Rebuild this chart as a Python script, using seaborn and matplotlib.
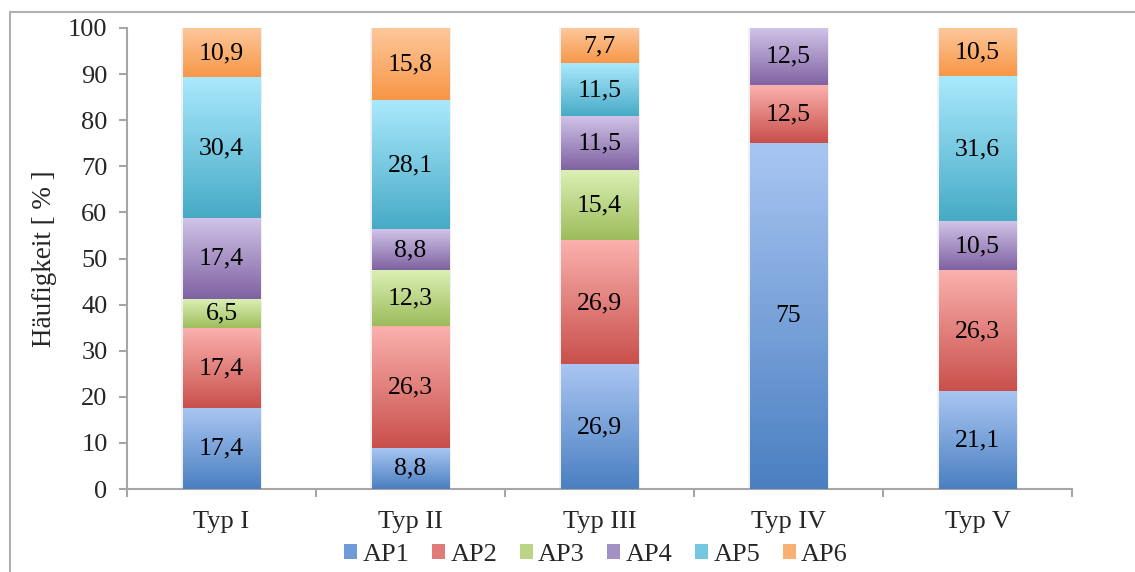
import numpy as np
import pandas as pd
import matplotlib
matplotlib.use("Agg")
import matplotlib.pyplot as plt
import matplotlib.colors as mcolors
from matplotlib.patches import Patch, Rectangle
import seaborn as sns

categories = ["Typ I", "Typ II", "Typ III", "Typ IV", "Typ V"]
series = ["AP1", "AP2", "AP3", "AP4", "AP5", "AP6"]
ap1 = [17.4, 8.8, 26.9, 75.0, 21.1]
ap2 = [17.4, 26.3, 26.9, 12.5, 26.3]
ap3 = [6.5, 12.3, 15.4, 0.0, 0.0]
ap4 = [17.4, 8.8, 11.5, 12.5, 10.5]
ap5 = [30.4, 28.1, 11.5, 0.0, 31.6]
ap6 = [10.9, 15.8, 7.7, 0.0, 10.5]
values = [ap1, ap2, ap3, ap4, ap5, ap6]

top_colors = ["#a9c6f2", "#fbb1ae", "#dbf0b4", "#d0c3e8", "#aae9fd", "#fdc89c"]
bot_colors = ["#4a7fc1", "#c84f4a", "#9bbb59", "#7f62a1", "#46aac5", "#f79646"]
mid_colors = ["#6f9bd8", "#e07b77", "#b9d585", "#a491c4", "#74c7e0", "#fab071"]

sns.set_theme(style="white")
plt.rcParams["font.family"] = ["Liberation Serif", "DejaVu Serif"]

fig = plt.figure(figsize=(11.35, 5.72), dpi=100)
ax = fig.add_axes([127 / 1135, 1 - 489 / 572, (1072 - 127) / 1135, (489 - 28) / 572])

data = np.array(values)
cum = np.cumsum(data, axis=0)
bottoms = np.vstack([np.zeros(len(categories)), cum[:-1]])

width = 0.41
for k in range(len(series) - 1, -1, -1):
    df = pd.DataFrame({"cat": categories, "val": cum[k]})
    n_before = len(ax.patches)
    sns.barplot(data=df, x="cat", y="val", order=categories, color=mid_colors[k],
                width=width, ax=ax, saturation=1, zorder=2 + (len(series) - k) * 0.01,
                errorbar=None)
    new_patches = ax.patches[n_before:]
    for i, p in enumerate(new_patches):
        p.set_facecolor("none")
        p.set_edgecolor("none")
        h = data[k][i]
        if h <= 0:
            continue
        x0 = p.get_x()
        x1 = x0 + p.get_width()
        y0 = bottoms[k][i]
        y1 = cum[k][i]
        cmap = mcolors.LinearSegmentedColormap.from_list("g", [bot_colors[k], top_colors[k]])
        grad = np.linspace(0, 1, 256).reshape(-1, 1)
        ax.imshow(grad, extent=(x0, x1, y0, y1), origin="lower", cmap=cmap,
                  aspect="auto", zorder=3, interpolation="bilinear")
        label = f"{h:.1f}".replace(".", ",") if h != int(h) else f"{int(h)}"
        ax.text((x0 + x1) / 2, (y0 + y1) / 2, label, ha="center", va="center",
                fontsize=18.5, color="black", zorder=5)
        ax.add_patch(Rectangle((x0 - 0.008, y0), (x1 - x0) + 0.016, y1 - y0,
                               facecolor="#000000", alpha=0.06, edgecolor="none", zorder=2.5))

ax.set_xlim(-0.5, len(categories) - 0.5)
ax.set_ylim(0, 100)
ax.set_yticks(np.arange(0, 101, 10))
ax.set_xticks(range(len(categories)))
ax.set_xticklabels(categories)
ax.set_xticks(np.arange(-0.5, len(categories), 1), minor=True)
ax.set_xlabel("")
ax.set_ylabel("Häufigkeit [ % ]", fontsize=19.5, labelpad=8)

for s in ["top", "right"]:
    ax.spines[s].set_visible(False)
for s in ["left", "bottom"]:
    ax.spines[s].set_color("#a6a6a6")
    ax.spines[s].set_linewidth(1.5)

ax.tick_params(axis="y", which="major", left=True, length=6, width=1.5, color="#a6a6a6",
               labelsize=19, pad=8, direction="out")
ax.tick_params(axis="x", which="major", bottom=False, length=0, labelsize=19, pad=16)
ax.tick_params(axis="x", which="minor", bottom=True, length=6, width=1.5, color="#a6a6a6",
               direction="out")
ax.grid(False)

handles = [Patch(facecolor=mid_colors[k], edgecolor="none", label=series[k]) for k in range(len(series))]
fig.legend(handles=handles, loc="center", bbox_to_anchor=(0.525, 1 - 555 / 572), ncol=6,
           frameon=False, fontsize=19, handlelength=0.5, handleheight=0.5,
           handletextpad=0.2, columnspacing=0.85)

fig.patches.append(Rectangle((10 / 1135, -0.1), 1.2, (1 - 12 / 572) + 0.1,
                             transform=fig.transFigure, fill=False,
                             edgecolor="#b0b0b0", linewidth=1.5, zorder=0))

fig.savefig("out.png", dpi=100)
